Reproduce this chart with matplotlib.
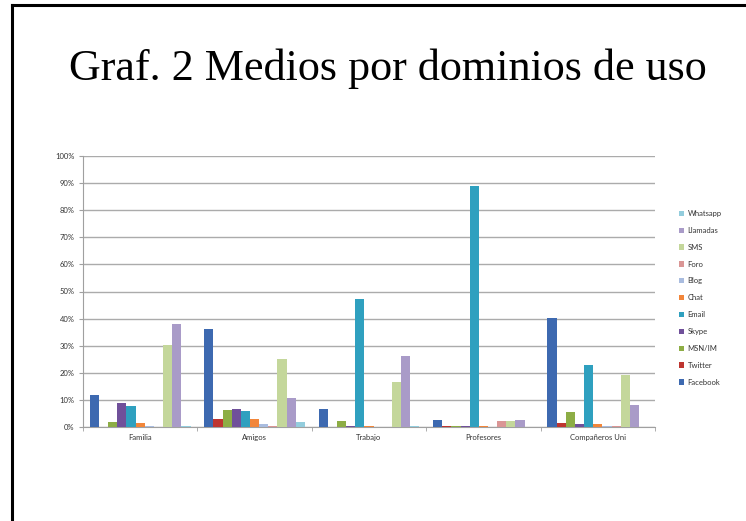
import numpy as np
import matplotlib
matplotlib.use("Agg")
import matplotlib.pyplot as plt
from matplotlib.lines import Line2D

categories = ["Familia", "Amigos", "Trabajo", "Profesores", "Compañeros Uni"]
series_names = ["Facebook", "Twitter", "MSN/IM", "Skype", "Email", "Chat",
                "Blog", "Foro", "SMS", "Llamadas", "Whatsapp"]

# percentage of each medium per domain (rows follow series_names)
facebook = [11.7, 36.0, 6.8, 2.5, 40.3]
twitter = [0.0, 2.8, 0.0, 0.2, 1.5]
msn_im = [1.8, 6.2, 2.3, 0.2, 5.5]
skype = [8.9, 6.8, 0.3, 0.5, 1.1]
email = [7.6, 6.0, 47.2, 89.0, 22.8]
chat = [1.5, 2.8, 0.5, 0.5, 1.0]
blog = [0.2, 1.1, 0.0, 0.0, 0.5]
foro = [0.0, 0.2, 0.0, 2.3, 0.5]
sms = [30.2, 25.2, 16.6, 2.3, 19.1]
llamadas = [37.9, 10.8, 26.2, 2.5, 8.0]
whatsapp = [0.5, 1.8, 0.2, 0.0, 0.0]

values = [facebook, twitter, msn_im, skype, email, chat,
          blog, foro, sms, llamadas, whatsapp]
colors = ["#3D69B0", "#BE3530", "#8DAD45", "#70509A", "#2FA0BF", "#F2863A",
          "#A9BCDF", "#DA9695", "#C4D79B", "#A99BC8", "#93CDDD"]

fig = plt.figure(figsize=(7.46, 5.21), dpi=100)

# slide frame
fig.add_artist(Line2D([12 / 746, 12 / 746], [0, 1 - 5 / 521], color="black", lw=2.2))
fig.add_artist(Line2D([12 / 746, 1], [1 - 5 / 521, 1 - 5 / 521], color="black", lw=2.2))

fig.text(387.5 / 746, 1 - 80 / 521, "Graf. 2 Medios por dominios de uso",
         family="Liberation Serif", fontsize=31.8, ha="center", va="baseline")

ax = fig.add_axes([83 / 746, 1 - 427 / 521, (655 - 83) / 746, (427 - 156) / 521])

n = len(series_names)
bw = 0.08
x = np.arange(len(categories))
for i, (name, vals) in enumerate(zip(series_names, values)):
    ax.bar(x + (i - (n - 1) / 2) * bw, vals, width=bw, color=colors[i],
           label=name, zorder=3)

ax.set_xlim(-0.5, len(categories) - 0.5)
ax.set_ylim(0, 100)
ax.set_yticks(np.arange(0, 101, 10))
ax.set_yticklabels([f"{v}%" for v in range(0, 101, 10)])
ax.set_xticks(x)
ax.set_xticklabels(categories)
ax.set_xticks(np.arange(-0.5, len(categories), 1), minor=True)
ax.tick_params(axis="x", which="major", length=0, labelsize=5.5, pad=5, colors="#333333")
ax.tick_params(axis="x", which="minor", length=3, color="#A0A0A0")
ax.tick_params(axis="y", length=3, color="#A0A0A0", labelsize=5.5, pad=3, labelcolor="#333333")
for lbl in ax.get_xticklabels() + ax.get_yticklabels():
    lbl.set_family("Lato")

ax.grid(axis="y", color="#ABABAB", lw=1.0, zorder=0)
for s in ["top", "right"]:
    ax.spines[s].set_visible(False)
for s in ["left", "bottom"]:
    ax.spines[s].set_color("#A0A0A0")
    ax.spines[s].set_linewidth(0.8)

handles, labels = ax.get_legend_handles_labels()
leg = ax.legend(handles[::-1], labels[::-1], loc="upper left",
                bbox_to_anchor=(676 / 746, 1 - 207 / 521), bbox_transform=fig.transFigure,
                frameon=False, prop={"family": "Lato", "size": 5.5},
                handlelength=0.7, handleheight=0.7, handletextpad=0.4,
                labelspacing=1.29, borderaxespad=0)
for t in leg.get_texts():
    t.set_color("#333333")

fig.savefig("out.png", dpi=100)
